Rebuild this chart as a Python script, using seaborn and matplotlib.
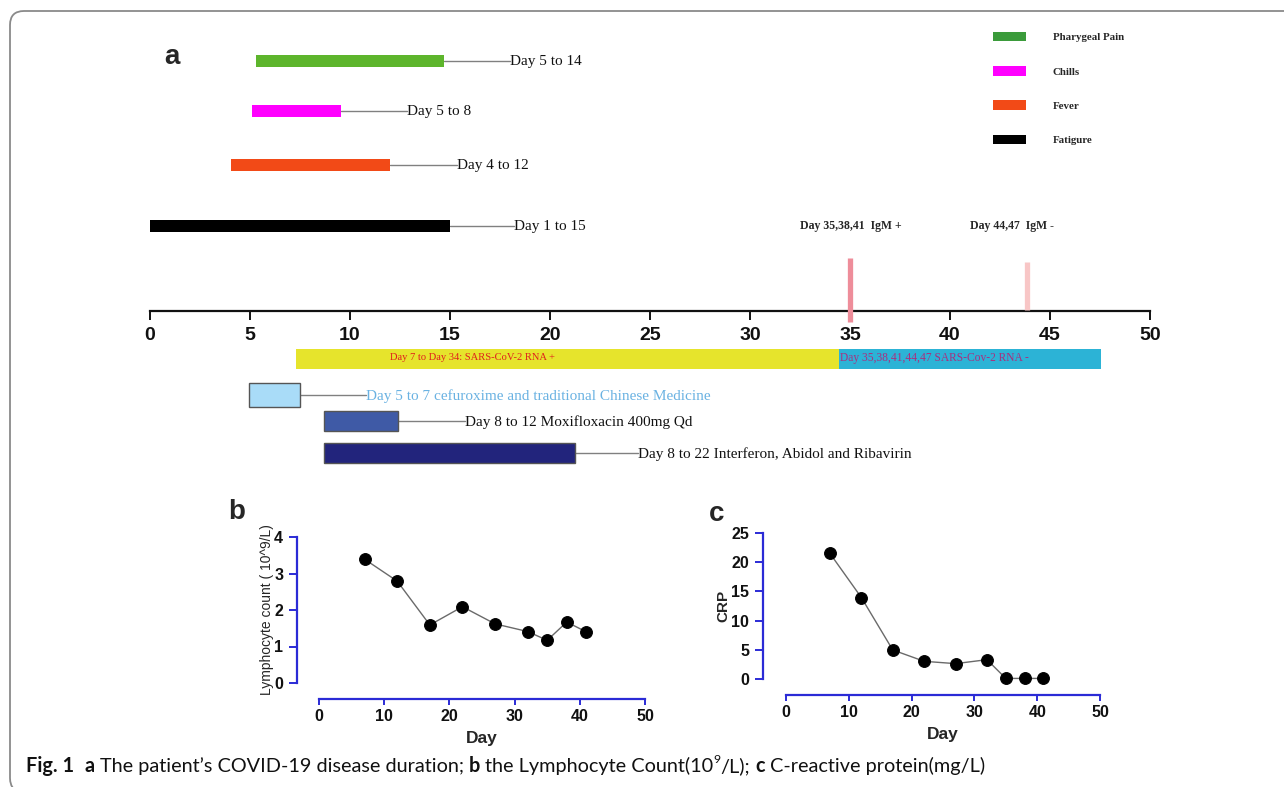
import numpy as np
import pandas as pd
import matplotlib
matplotlib.use("Agg")
import matplotlib.pyplot as plt
import matplotlib.font_manager as fm
import seaborn as sns
from matplotlib.patches import Patch, FancyBboxPatch

# ---------------- data ----------------
symptoms = ["Pharygeal Pain", "Chills", "Fever", "Fatigure"]
symptom_start = [5.3, 5.1, 4.05, 0.0]
symptom_end = [14.7, 9.55, 12.0, 15.0]
symptom_text = ["Day 5 to 14", "Day 5 to 8", "Day 4 to 12", "Day 1 to 15"]
symptom_text_day = [18.0, 12.85, 15.35, 18.2]
symptom_colors = ["#5db52c", "#ff00ff", "#f24a17", "#000000"]
legend_colors = ["#3b9b3b", "#ff00ff", "#f24a17", "#000000"]

igm_days = [35.0, 43.85]
igm_text = ["Day 35,38,41  IgM +", "Day 44,47  IgM -"]
igm_text_day = [32.5, 41.0]
igm_colors = ["#ee8d9a", "#f8c6c6"]

rna_start = [7.3, 34.45]
rna_end = [34.45, 47.55]
rna_text = ["Day 7 to Day 34: SARS-CoV-2 RNA +", "Day 35,38,41,44,47 SARS-Cov-2 RNA -"]
rna_text_day = [12.0, 34.5]
rna_colors = ["#e6e42c", "#2cb3d6"]
rna_text_colors = ["#e0201c", "#a83080"]
rna_text_size = [7.6, 8.3]

treat_start = [4.95, 8.7, 8.7]
treat_end = [7.5, 12.4, 21.25]
treat_text = ["Day 5 to 7 cefuroxime and traditional Chinese Medicine",
              "Day 8 to 12 Moxifloxacin 400mg Qd",
              "Day 8 to 22 Interferon, Abidol and Ribavirin"]
treat_text_day = [10.8, 15.75, 24.4]
treat_colors = ["#a9dcf8", "#3f5aa6", "#22247c"]
treat_text_colors = ["#6ab2e2", "#111111", "#111111"]

axis_ticks = list(range(0, 51, 5))

lab_days = [7, 12, 17, 22, 27, 32, 35, 38, 41]
lymph = [3.39, 2.79, 1.59, 2.09, 1.62, 1.41, 1.17, 1.67, 1.40]
crp = [21.5, 13.95, 4.97, 3.03, 2.63, 3.31, 0.1, 0.1, 0.1]

# ---------------- setup ----------------
sns.set_style("white")
names = {f.name for f in fm.fontManager.ttflist}
SANS = "Liberation Sans" if "Liberation Sans" in names else "DejaVu Sans"
SERIF = "Liberation Serif" if "Liberation Serif" in names else "DejaVu Serif"
CAP = "Lato" if "Lato" in names else SANS
plt.rcParams["font.family"] = [SANS, "DejaVu Sans"]

W, H = 1284, 787
fig = plt.figure(figsize=(W / 100, H / 100), dpi=100)


def fbox(x0, y0, x1, y1):
    return [x0 / W, 1 - y1 / H, (x1 - x0) / W, (y1 - y0) / H]


# ---------------- panel a ----------------
axa = fig.add_axes(fbox(150, 0, 1150, 480))
axa.set_facecolor("none")
axa.set_xlim(0, 50)
axa.set_ylim(480, 0)

sym_rows = [61, 111, 165, 225.5]
for s, e, lab, td, c, yr in zip(symptom_start, symptom_end, symptom_text,
                                symptom_text_day, symptom_colors, sym_rows):
    axa.barh(yr, e - s, left=s, height=12, color=c, edgecolor="none", zorder=3)
    axa.plot([e, td], [yr, yr], color="#808080", lw=1, zorder=2)
    axa.text(td, yr + 1, lab, family=SERIF, fontsize=11, ha="left", va="center", color="#111111")

# IgM markers
igm_spans = [(258, 322), (262, 310)]
for d, lab, td, c, (y0, y1) in zip(igm_days, igm_text, igm_text_day, igm_colors, igm_spans):
    axa.plot([d, d], [y0, y1], color=c, lw=3.8, solid_capstyle="butt", zorder=4, clip_on=False)
    axa.text(td, 226, lab, family=SERIF, fontsize=8.5, fontweight="bold", ha="left", va="center")

# main day axis
for sp in ["top", "left", "right"]:
    axa.spines[sp].set_visible(False)
axa.spines["bottom"].set_position(("data", 311))
axa.spines["bottom"].set_linewidth(1.6)
axa.spines["bottom"].set_color("#111111")
axa.set_xticks(axis_ticks)
axa.set_yticks([])
axa.tick_params(axis="x", bottom=True, direction="out", length=6.5, width=1.4, pad=5.2,
                colors="#111111")
for t in axa.get_xticklabels():
    t.set_fontweight("bold")
    t.set_fontsize(14)
    t.set_family(SANS)

# RNA bars
for s, e, lab, td, c, tc, fs in zip(rna_start, rna_end, rna_text, rna_text_day, rna_colors,
                                    rna_text_colors, rna_text_size):
    axa.barh(359, e - s, left=s, height=20, color=c, edgecolor="none", zorder=3)
    axa.text(td, 358, lab, family=SERIF, fontsize=fs, color=tc, ha="left", va="center", zorder=5)

# treatments
treat_rows = [395, 421, 453]
treat_h = [24, 20, 20]
for s, e, lab, td, c, tc, yr, hh in zip(treat_start, treat_end, treat_text, treat_text_day,
                                        treat_colors, treat_text_colors, treat_rows, treat_h):
    axa.barh(yr, e - s, left=s, height=hh, color=c, edgecolor="#555555", lw=1, zorder=3)
    axa.plot([e, td], [yr, yr], color="#808080", lw=1, zorder=2)
    axa.text(td, yr + 1, lab, family=SERIF, fontsize=11, ha="left", va="center", color=tc)

# legend
handles = [Patch(facecolor=c, edgecolor="none", label=l) for c, l in zip(legend_colors, symptoms)]
fig.legend(handles=handles, loc="upper left", bbox_to_anchor=(993 / W, 1 - 32 / H),
           frameon=False, borderpad=0, borderaxespad=0, handlelength=3.05, handleheight=0.95,
           handletextpad=2.45, labelspacing=2.2,
           prop={"family": SERIF, "weight": "bold", "size": 7.8})

fig.text(172 / W, 1 - 57 / H, "a", fontsize=20, fontweight="bold", ha="center", va="center")


# ---------------- panels b, c ----------------
def prism_axes(ax, ylim, yticks, left_off, bottom_off):
    ax.set_facecolor("none")
    ax.set_xlim(0, 50)
    ax.set_ylim(*ylim)
    ax.set_xticks([0, 10, 20, 30, 40, 50])
    ax.set_yticks(yticks)
    for sp in ["top", "right"]:
        ax.spines[sp].set_visible(False)
    for sp in ["left", "bottom"]:
        ax.spines[sp].set_color("#2b2bd6")
        ax.spines[sp].set_linewidth(1.6)
    ax.spines["left"].set_position(("outward", left_off * 0.72))
    ax.spines["bottom"].set_position(("outward", bottom_off * 0.72))
    ax.tick_params(axis="both", direction="out", width=1.4, color="#2b2bd6",
                   labelcolor="#111111", labelsize=11.5)
    ax.tick_params(axis="x", bottom=True, length=4, pad=3.5)
    ax.tick_params(axis="y", left=True, length=6, pad=4)
    for t in ax.get_xticklabels() + ax.get_yticklabels():
        t.set_fontweight("bold")
    ax.grid(False)


axb = fig.add_axes(fbox(319, 537, 645, 683))
dfb = pd.DataFrame({"Day": lab_days, "Lymphocyte": lymph})
sns.lineplot(data=dfb, x="Day", y="Lymphocyte", ax=axb, color="#6a6a6a", lw=1,
             marker="o", markersize=8.5, markerfacecolor="black", markeredgecolor="black",
             clip_on=False, zorder=5)
prism_axes(axb, (0, 4), [0, 1, 2, 3, 4], 22, 16)
axb.set_xlabel("Day", fontsize=12.5, fontweight="bold", labelpad=4.5)
axb.set_ylabel("Lymphocyte count ( 10^9/L)", fontsize=10, labelpad=0)
fig.text(237 / W, 1 - 512 / H, "b", fontsize=20, fontweight="bold", ha="center", va="center")

axc = fig.add_axes(fbox(786, 533, 1100, 679))
dfc = pd.DataFrame({"Day": lab_days, "CRP": crp})
sns.lineplot(data=dfc, x="Day", y="CRP", ax=axc, color="#6a6a6a", lw=1,
             marker="o", markersize=8.5, markerfacecolor="black", markeredgecolor="black",
             clip_on=False, zorder=5)
prism_axes(axc, (0, 25), [0, 5, 10, 15, 20, 25], 23, 16)
axc.set_xlabel("Day", fontsize=12.5, fontweight="bold", labelpad=4.5)
axc.set_ylabel("CRP", fontsize=11, fontweight="bold", labelpad=0.5)
fig.text(717 / W, 1 - 514 / H, "c", fontsize=20, fontweight="bold", ha="center", va="center")

# ---------------- frame ----------------
frame = FancyBboxPatch((10 / 100, -5 / 100), 1300 / 100, 781 / 100,
                       boxstyle="round,pad=0,rounding_size=0.14",
                       transform=fig.dpi_scale_trans, facecolor="none",
                       edgecolor="#8a8a8a", lw=1.3, zorder=0)
fig.patches.append(frame)

# ---------------- caption ----------------
pieces = [("Fig. 1", "bold", 0), ("a", "bold", 2), ("The patient’s COVID-19 disease duration;", "normal", 1),
          ("b", "bold", 1), ("the Lymphocyte Count(10", "normal", 1), ("9", "sup", 0),
          ("/L);", "normal", 0), ("c", "bold", 1), ("C-reactive protein(mg/L)", "normal", 1)]
renderer = fig.canvas.get_renderer()
CAP_X0, CAP_X1, CAP_BASE = 26, 985, 772


def draw_caption(size, x0=CAP_X0, base=CAP_BASE):
    arts = []
    probe1 = fig.text(0, 0, "x x", fontsize=size, family=CAP)
    probe2 = fig.text(0, 0, "xx", fontsize=size, family=CAP)
    sp = probe1.get_window_extent(renderer).width - probe2.get_window_extent(renderer).width
    probe1.remove()
    probe2.remove()
    x = x0
    for s, kind, nsp in pieces:
        x += nsp * sp
        if kind == "sup":
            t = fig.text(x / W, 1 - (base - size * 0.6) / H, s, fontsize=size * 0.62,
                         family=CAP, ha="left", va="baseline", color="#111111")
        else:
            t = fig.text(x / W, 1 - base / H, s, fontsize=size, family=CAP,
                         fontweight="bold" if kind == "bold" else "normal",
                         ha="left", va="baseline", color="#111111")
        arts.append(t)
        x += t.get_window_extent(renderer).width
    return arts, x


arts, xend = draw_caption(13.0)
size = 13.0 * (CAP_X1 - CAP_X0) / (xend - CAP_X0)
for a in arts:
    a.remove()
draw_caption(size)

fig.savefig("out.png", dpi=100)
